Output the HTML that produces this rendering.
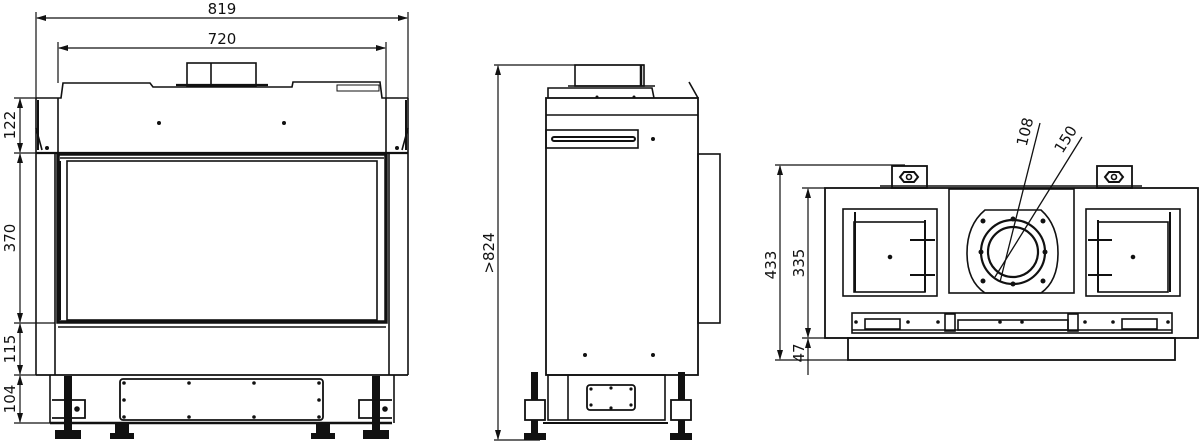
<!DOCTYPE html>
<html><head><meta charset="utf-8"><style>
html,body{margin:0;padding:0;background:#fff;}
svg{display:block;}
text{font-family:"DejaVu Sans","Liberation Sans",sans-serif;font-size:15px;fill:#111;stroke:none;}
</style></head><body>
<svg width="1200" height="441" viewBox="0 0 1200 441" xmlns="http://www.w3.org/2000/svg" fill="none" stroke="#111" stroke-width="1.6">
<defs>
<marker id="a" markerWidth="10" markerHeight="6" refX="9" refY="3" orient="auto-start-reverse" markerUnits="userSpaceOnUse"><path d="M0,0 L10,3 L0,6 z" fill="#111" stroke="none"/></marker>
</defs>

<!-- ===== FRONT VIEW ===== -->
<line x1="36" y1="12" x2="36" y2="98" stroke-width="1.2"/><line x1="408" y1="12" x2="408" y2="98" stroke-width="1.2"/>
<line x1="37" y1="18" x2="407" y2="18" stroke-width="1.2" marker-start="url(#a)" marker-end="url(#a)"/>
<text x="222" y="14" text-anchor="middle">819</text>
<line x1="58" y1="42" x2="58" y2="83" stroke-width="1.2"/><line x1="386" y1="42" x2="386" y2="98" stroke-width="1.2"/>
<line x1="59" y1="48" x2="385" y2="48" stroke-width="1.2" marker-start="url(#a)" marker-end="url(#a)"/>
<text x="222" y="44" text-anchor="middle">720</text>
<rect x="187" y="63" width="69" height="23"/><line x1="211" y1="63" x2="211" y2="86"/>
<line x1="176" y1="85" x2="268" y2="85" stroke-width="2.2"/>
<path d="M36,98 L61,98 L63,83 L150,83 L153,87 L292,87 L293,82 L380,82 L382,98 L408,98"/>
<rect x="337" y="85" width="42" height="6" stroke-width="1"/>
<line x1="36" y1="98" x2="36" y2="375"/><line x1="408" y1="98" x2="408" y2="375"/>
<line x1="38" y1="100" x2="38" y2="150" stroke-width="2"/>
<path d="M36,128 L42,150" /><path d="M408,128 L402,150"/>
<line x1="406" y1="100" x2="406" y2="150" stroke-width="2"/>
<line x1="58" y1="98" x2="58" y2="153"/><line x1="386" y1="98" x2="386" y2="153"/>
<line x1="36" y1="153" x2="408" y2="153" stroke-width="2.2"/>
<g fill="#111" stroke="none"><circle cx="159" cy="123" r="2"/><circle cx="284" cy="123" r="2"/><circle cx="47" cy="148" r="2"/><circle cx="397" cy="148" r="2"/></g>
<rect x="58" y="154" width="328" height="168" stroke-width="3.5"/>
<rect x="67" y="161" width="310" height="159"/>
<line x1="60" y1="158" x2="384" y2="158"/>
<line x1="60" y1="161" x2="60" y2="320" stroke-width="2"/>
<line x1="58" y1="327" x2="386" y2="327"/>
<line x1="55" y1="153" x2="55" y2="375"/><line x1="389" y1="153" x2="389" y2="375"/>
<line x1="36" y1="375" x2="408" y2="375" stroke-width="1.8"/>
<rect x="120" y="379" width="203" height="41" rx="3" stroke-width="1.8"/>
<g fill="#111" stroke="none">
<circle cx="124" cy="383" r="1.8"/><circle cx="189" cy="383" r="1.8"/><circle cx="254" cy="383" r="1.8"/><circle cx="319" cy="383" r="1.8"/>
<circle cx="124" cy="400" r="1.8"/><circle cx="319" cy="400" r="1.8"/>
<circle cx="124" cy="417" r="1.8"/><circle cx="189" cy="417" r="1.8"/><circle cx="254" cy="417" r="1.8"/><circle cx="319" cy="417" r="1.8"/>
</g>
<line x1="50" y1="423" x2="392" y2="423" stroke-width="2.5"/>
<line x1="50" y1="375" x2="50" y2="423"/><line x1="394" y1="375" x2="394" y2="423"/>
<g fill="#111" stroke="none">
<rect x="64" y="376" width="8" height="54"/><rect x="372" y="376" width="8" height="54"/>
<rect x="55" y="430" width="26" height="9"/><rect x="363" y="430" width="26" height="9"/>
<rect x="115" y="423" width="14" height="10"/><rect x="110" y="433" width="24" height="6"/>
<rect x="316" y="423" width="14" height="10"/><rect x="311" y="433" width="24" height="6"/>
</g>
<path d="M52,400 L85,400 L85,418 L52,418" stroke-width="1.8"/><circle cx="77" cy="409" r="2" fill="#111"/>
<path d="M392,400 L359,400 L359,418 L392,418" stroke-width="1.8"/><circle cx="385" cy="409" r="2" fill="#111"/>
<g stroke-width="1.2">
<line x1="14" y1="98" x2="36" y2="98"/><line x1="14" y1="153" x2="55" y2="153"/><line x1="14" y1="323" x2="55" y2="323"/><line x1="14" y1="375" x2="36" y2="375"/><line x1="14" y1="423" x2="50" y2="423"/>
<line x1="20" y1="99" x2="20" y2="152" marker-start="url(#a)" marker-end="url(#a)"/>
<line x1="20" y1="154" x2="20" y2="322" marker-start="url(#a)" marker-end="url(#a)"/>
<line x1="20" y1="324" x2="20" y2="374" marker-start="url(#a)" marker-end="url(#a)"/>
<line x1="20" y1="376" x2="20" y2="422" marker-start="url(#a)" marker-end="url(#a)"/>
</g>
<text transform="translate(15,125) rotate(-90)" text-anchor="middle">122</text>
<text transform="translate(15,238) rotate(-90)" text-anchor="middle">370</text>
<text transform="translate(15,349) rotate(-90)" text-anchor="middle">115</text>
<text transform="translate(15,399) rotate(-90)" text-anchor="middle">104</text>

<!-- ===== SIDE VIEW ===== -->
<line x1="494" y1="65" x2="644" y2="65" stroke-width="1.2"/>
<line x1="498" y1="66" x2="498" y2="439" stroke-width="1.2" marker-start="url(#a)" marker-end="url(#a)"/>
<line x1="494" y1="440" x2="540" y2="440" stroke-width="1.2"/>
<text transform="translate(494,253) rotate(-90)" text-anchor="middle">&gt;824</text>
<rect x="575" y="65" width="69" height="21"/><line x1="641" y1="65" x2="641" y2="86" stroke-width="2.5"/>
<path d="M548,98 L548,88 L652,88 L654,98"/>
<line x1="568" y1="86" x2="655" y2="86"/>
<rect x="546" y="98" width="152" height="277" stroke-width="1.8"/>
<line x1="546" y1="115" x2="698" y2="115"/>
<line x1="689" y1="82" x2="698" y2="98"/>
<rect x="546" y="130" width="92" height="18"/>
<rect x="552" y="137" width="83" height="4" rx="2" stroke-width="2"/>
<g fill="#111" stroke="none"><circle cx="653" cy="139" r="2"/><circle cx="585" cy="355" r="2"/><circle cx="653" cy="355" r="2"/><circle cx="597" cy="97" r="1.5"/><circle cx="634" cy="97" r="1.5"/></g>
<rect x="698" y="154" width="22" height="169"/>
<rect x="548" y="375" width="117" height="45"/>
<line x1="568" y1="375" x2="568" y2="420"/>
<line x1="543" y1="423" x2="668" y2="423" stroke-width="2"/>
<rect x="587" y="385" width="48" height="25" rx="3" stroke-width="1.8"/>
<g fill="#111" stroke="none"><circle cx="591" cy="389" r="1.6"/><circle cx="611" cy="388" r="1.6"/><circle cx="631" cy="389" r="1.6"/><circle cx="591" cy="405" r="1.6"/><circle cx="611" cy="408" r="1.6"/><circle cx="631" cy="405" r="1.6"/>
<rect x="531" y="372" width="7" height="68"/><rect x="678" y="372" width="7" height="68"/>
<rect x="524" y="433" width="22" height="7"/><rect x="670" y="433" width="22" height="7"/></g>
<rect x="525" y="400" width="20" height="20" fill="#fff" stroke-width="1.8"/>
<rect x="671" y="400" width="20" height="20" fill="#fff" stroke-width="1.8"/>

<!-- ===== TOP VIEW ===== -->
<g stroke-width="1.2">
<line x1="775" y1="165" x2="905" y2="165"/>
<line x1="780" y1="166" x2="780" y2="359" marker-start="url(#a)" marker-end="url(#a)"/>
<line x1="775" y1="360" x2="848" y2="360"/>
<line x1="802" y1="188" x2="825" y2="188"/>
<line x1="808" y1="189" x2="808" y2="337" marker-start="url(#a)" marker-end="url(#a)"/>
<line x1="808" y1="339" x2="808" y2="375" marker-start="url(#a)"/>
<line x1="802" y1="338" x2="848" y2="338"/>
</g>
<text transform="translate(776,265) rotate(-90)" text-anchor="middle">433</text>
<text transform="translate(804,263) rotate(-90)" text-anchor="middle">335</text>
<text transform="translate(804,353) rotate(-90)" text-anchor="middle">47</text>
<rect x="825" y="188" width="373" height="150" stroke-width="1.8"/>
<line x1="880" y1="186" x2="1142" y2="186"/>
<rect x="848" y="338" width="327" height="22" stroke-width="1.8"/>
<rect x="892" y="166" width="35" height="22" stroke-width="1.8"/><polygon points="904,172 914,172 918,177 914,182 904,182 900,177" stroke-width="2"/><circle cx="909" cy="177" r="2.5"/>
<rect x="1097" y="166" width="35" height="22" stroke-width="1.8"/><polygon points="1109,172 1119,172 1123,177 1119,182 1109,182 1105,177" stroke-width="2"/><circle cx="1114" cy="177" r="2.5"/>
<rect x="843" y="209" width="94" height="87"/>
<rect x="854" y="222" width="71" height="70"/>
<line x1="855" y1="212" x2="855" y2="292" stroke-width="2"/>
<line x1="925" y1="220" x2="925" y2="292" stroke-width="2"/>
<line x1="910" y1="240" x2="935" y2="240" stroke-width="2"/><line x1="910" y1="275" x2="935" y2="275" stroke-width="2"/>
<circle cx="890" cy="257" r="1.5" fill="#111"/>
<rect x="1086" y="209" width="94" height="87"/>
<rect x="1098" y="222" width="70" height="70"/>
<line x1="1098" y1="220" x2="1098" y2="292" stroke-width="2"/>
<line x1="1170" y1="212" x2="1170" y2="292" stroke-width="2"/>
<line x1="1088" y1="240" x2="1112" y2="240" stroke-width="2"/><line x1="1088" y1="275" x2="1112" y2="275" stroke-width="2"/>
<circle cx="1133" cy="257" r="1.5" fill="#111"/>
<rect x="949" y="189" width="125" height="104"/>
<path d="M985,210 L1041,210 Q1058,225 1058,253 Q1058,281 1041,293 L985,293 Q967,281 967,253 Q967,225 985,210 Z"/>
<circle cx="1013" cy="252" r="32" stroke-width="2.2"/>
<circle cx="1013" cy="252" r="25" stroke-width="2.2"/>
<g fill="#111" stroke="none">
<circle cx="1013" cy="219" r="2.5"/><circle cx="1013" cy="284" r="2.5"/><circle cx="981" cy="252" r="2.5"/><circle cx="1045" cy="252" r="2.5"/>
<circle cx="983" cy="221" r="2.5"/><circle cx="1043" cy="221" r="2.5"/><circle cx="983" cy="281" r="2.5"/><circle cx="1043" cy="281" r="2.5"/>
</g>
<line x1="1040" y1="123" x2="1000" y2="282" stroke-width="1.3"/>
<line x1="1082" y1="137" x2="995" y2="277" stroke-width="1.3"/>
<text transform="translate(1030,133) rotate(-76)" text-anchor="middle">108</text>
<text transform="translate(1070,142) rotate(-58)" text-anchor="middle">150</text>
<rect x="852" y="313" width="320" height="20"/>
<line x1="852" y1="330" x2="1172" y2="330"/>
<rect x="865" y="319" width="35" height="10"/><rect x="1122" y="319" width="35" height="10"/>
<rect x="945" y="314" width="10" height="17"/><rect x="1068" y="314" width="10" height="17"/>
<rect x="958" y="320" width="110" height="10"/>
<g fill="#111" stroke="none"><circle cx="856" cy="322" r="1.8"/><circle cx="908" cy="322" r="1.8"/><circle cx="938" cy="322" r="1.8"/><circle cx="1000" cy="322" r="1.8"/><circle cx="1022" cy="322" r="1.8"/><circle cx="1085" cy="322" r="1.8"/><circle cx="1113" cy="322" r="1.8"/><circle cx="1168" cy="322" r="1.8"/></g>
</svg>
</body></html>
